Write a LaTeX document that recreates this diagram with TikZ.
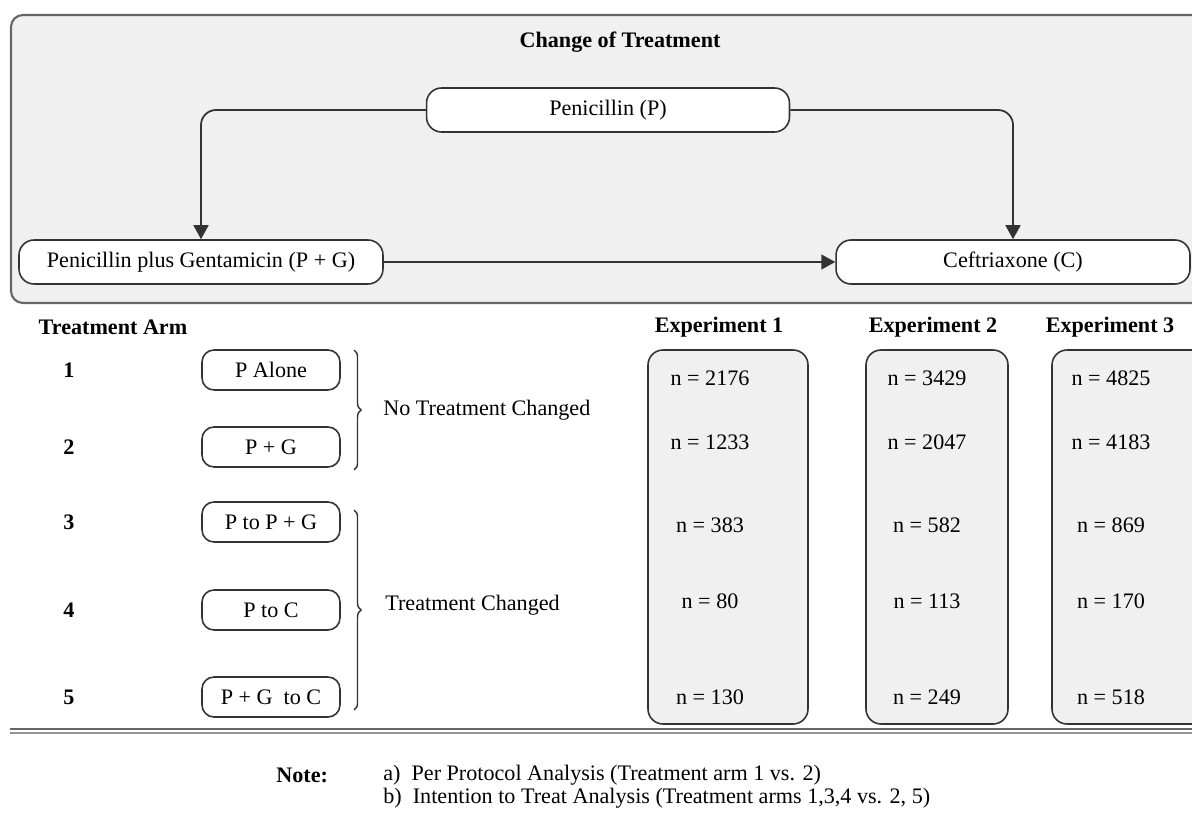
\documentclass[tikz,border=0pt]{standalone}
\usepackage{fontspec}
\setmainfont{Liberation Serif}
\usetikzlibrary{arrows.meta,positioning,calc,decorations.pathreplacing}
\definecolor{panel}{HTML}{F0F0F0}
\definecolor{rim}{HTML}{666666}
\definecolor{ink}{HTML}{333333}

\begin{document}
\begin{tikzpicture}[x=0.02cm, y=-0.02cm, font=\fontsize{12.6}{15}\selectfont,
    drug/.style={draw=ink, fill=white, line width=0.9pt, rounded corners=0.3cm, minimum height=0.88cm, inner sep=0pt},
    arm/.style={draw=ink, line width=0.9pt, rounded corners=0.24cm, minimum width=2.76cm, minimum height=0.8cm, inner sep=0pt},
    expbox/.style={draw=ink, fill=panel, line width=0.9pt, rounded corners=0.3cm},
    flow/.style={draw=ink, line width=1pt, rounded corners=0.3cm, -{Triangle[length=0.28cm, width=0.3cm]}},
    hdr/.style={font=\fontsize{12.6}{15}\selectfont\bfseries},
    curly/.style={decorate, decoration={brace, amplitude=4pt}, line width=0.8pt, ink}]
  \useasboundingbox (0,0) rectangle (1192,813);
  \clip (0,0) rectangle (1192,813);
  % change of treatment panel
  \draw[rim, fill=panel, line width=1.2pt, rounded corners=0.24cm] (11,15) rectangle (1215,303);
  \node[hdr] (title) at (620,42) {Change of Treatment};
  \node[drug, minimum width=7.26cm] (pen) at (608,110) {Penicillin (P)};
  \node[drug, minimum width=7.28cm] (pg) at (201,262) {Penicillin plus Gentamicin (P + G)};
  \node[drug, minimum width=7.08cm] (ceft) at (1013,262) {Ceftriaxone (C)};
  \draw[flow] (pen.west) -| (pg.north);
  \draw[flow] (pen.east) -| (ceft.north);
  \draw[flow] (pg.east) -- (ceft.west);

  % treatment arms
  \node[hdr] (armhdr) at (113,327) {Treatment Arm};
  \foreach \k/\yy/\txt in {1/370/P Alone, 2/447/P + G, 3/522/P to P + G, 4/610/P to C, 5/697/P + G\ \ to C}{
    \node[hdr] (num\k) at (69,\yy) {\k};
    \node[arm] (arm\k) at (271,\yy) {\txt};
  }
  \draw[curly] (354,350) -- (354,470);
  \node[anchor=west, inner sep=0pt] (same) at (383,410) {No Treatment Changed};
  \draw[curly] (354,510) -- (354,710);
  \node[anchor=west, inner sep=0pt] (changed) at (385,605) {Treatment Changed};

  % experiments
  \foreach \e/\cx in {1/719, 2/933, 3/1110}
    \node[hdr] (exp\e) at (\cx,327) {Experiment \e};
  \draw[expbox] (648,350) rectangle (808,724);
  \draw[expbox] (866,350) rectangle (1008,724);
  \draw[expbox] (1052,350) rectangle (1260,724);
  \foreach \r/\yy/\a/\b/\c in {1/378/2176/3429/4825, 2/442/1233/2047/4183,
                               3/525/383/582/869, 4/601/80/113/170, 5/697/130/249/518}{
    \node (nA\r) at (710,\yy) {n = \a};
    \node (nB\r) at (927,\yy) {n = \b};
    \node (nC\r) at (1111,\yy) {n = \c};
  }

  % rule and note
  \draw[rim, line width=0.9pt] (10,729) -- (1192,729);
  \draw[rim!70, line width=0.9pt] (10,733) -- (1192,733);
  \node[hdr, anchor=west, inner sep=0pt] (note) at (276,775) {Note:};
  \node[anchor=west, inner sep=0pt] (noteA) at (383,775) {a)\ \ Per Protocol Analysis (Treatment arm 1 vs. 2)};
  \node[anchor=west, inner sep=0pt] (noteB) at (383,798) {b)\ \ Intention to Treat Analysis (Treatment arms 1,3,4 vs. 2, 5)};
\end{tikzpicture}
\end{document}
